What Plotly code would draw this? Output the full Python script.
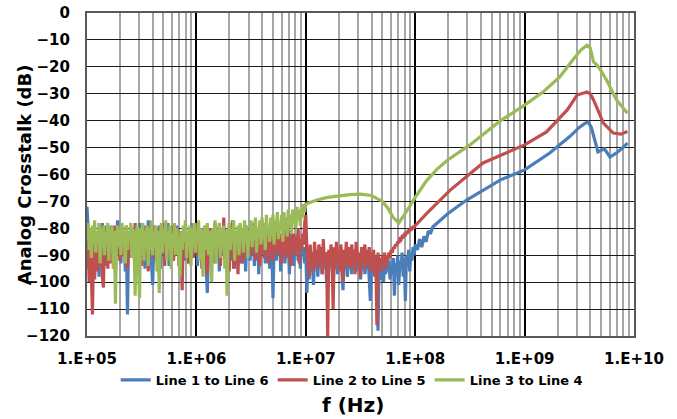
import numpy as np
import plotly.graph_objects as go

# ---------------- data ----------------
# noisy sweep segment 1: log10(f) from 5.00 to 7.00, step 0.01 (201 points)
logf_seg1 = np.round(np.linspace(5.0, 7.0, 201), 3)

blue_seg1 = [
    -72, -79, -88, -82, -93, -80, -90, -84, -95, -81,
    -87, -98, -83, -91, -78, -89, -85, -94, -80, -88,
    -83, -92, -79, -87, -84, -95, -81, -89, -77, -90,
    -84, -93, -80, -88, -82, -96, -85, -112, -83, -90,
    -79, -91, -84, -87, -81, -94, -83, -89, -78, -92,
    -85, -88, -80, -95, -83, -90, -77, -89, -84, -93,
    -101, -86, -80, -92, -84, -88, -79, -95, -83, -87,
    -81, -91, -85, -89, -78, -94, -83, -88, -80, -92,
    -84, -90, -79, -87, -83, -95, -81, -89, -85, -92,
    -80, -88, -84, -93, -82, -87, -78, -91, -85, -89,
    -81, -94, -84, -88, -80, -92, -83, -90, -86, -95,
    -104, -87, -83, -91, -80, -89, -85, -93, -82, -88,
    -84, -96, -81, -90, -86, -88, -80, -94, -84, -89,
    -82, -92, -85, -88, -80, -95, -83, -90, -86, -87,
    -81, -93, -85, -89, -83, -96, -84, -88, -80, -92,
    -86, -90, -82, -94, -85, -88, -81, -97, -84, -90,
    -83, -89, -86, -93, -81, -91, -85, -95, -84, -88,
    -106, -87, -83, -92, -85, -90, -82, -96, -84, -89,
    -86, -93, -83, -88, -85, -97, -84, -90, -82, -94,
    -85, -89, -83, -92, -86, -95, -84, -90, -87, -93,
    -88]

red_seg1 = [
    -95, -84, -100, -88, -97, -112, -86, -99, -82, -96,
    -89, -80, -94, -85, -98, -102, -83, -91, -79, -95,
    -86, -81, -93, -84, -89, -79, -96, -83, -87, -80,
    -92, -85, -81, -90, -83, -88, -79, -95, -84, -86,
    -80, -91, -83, -87, -78, -93, -85, -82, -89, -80,
    -94, -84, -86, -79, -90, -82, -96, -83, -88, -80,
    -85, -91, -79, -87, -84, -93, -80, -86, -82, -89,
    -78, -94, -84, -88, -81, -90, -83, -86, -79, -92,
    -85, -82, -89, -80, -94, -84, -87, -103, -83, -90,
    -79, -88, -84, -93, -81, -86, -80, -91, -83, -87,
    -78, -90, -84, -88, -80, -95, -83, -86, -79, -92,
    -97, -84, -88, -80, -93, -82, -87, -78, -91, -84,
    -86, -79, -94, -83, -89, -76, -92, -84, -88, -81,
    -96, -83, -87, -77, -95, -84, -90, -82, -97, -85,
    -88, -80, -93, -84, -86, -79, -91, -83, -87, -81,
    -90, -82, -86, -78, -92, -84, -88, -80, -94, -83,
    -87, -79, -91, -84, -88, -81, -93, -85, -89, -80,
    -92, -83, -87, -79, -90, -84, -88, -82, -93, -85,
    -86, -80, -91, -83, -89, -81, -94, -84, -88, -82,
    -90, -83, -87, -80, -93, -84, -88, -82, -86, -78,
    -75]

green_seg1 = [
    -84, -78, -88, -80, -91, -79, -86, -77, -89, -81,
    -85, -78, -93, -80, -87, -79, -90, -82, -84, -78,
    -92, -80, -86, -79, -95, -81, -108, -83, -79, -87,
    -80, -90, -78, -85, -82, -93, -79, -88, -81, -84,
    -78, -91, -80, -87, -105, -82, -79, -89, -106, -80,
    -86, -78, -92, -81, -85, -79, -94, -80, -88, -77,
    -90, -82, -84, -79, -96, -81, -104, -83, -78, -89,
    -80, -86, -77, -92, -81, -85, -79, -95, -82, -87,
    -78, -90, -80, -84, -93, -98, -81, -88, -79, -85,
    -77, -91, -82, -86, -79, -94, -80, -87, -78, -89,
    -81, -84, -77, -92, -80, -86, -98, -82, -79, -88,
    -78, -90, -81, -85, -100, -80, -87, -77, -93, -82,
    -84, -78, -91, -80, -86, -79, -95, -81, -105, -83,
    -78, -88, -80, -85, -77, -92, -81, -86, -79, -90,
    -78, -84, -80, -89, -77, -85, -79, -91, -81, -83,
    -77, -87, -79, -84, -76, -89, -80, -83, -77, -86,
    -76, -84, -78, -88, -75, -82, -79, -85, -76, -83,
    -75, -86, -77, -81, -74, -84, -78, -80, -75, -85,
    -74, -81, -76, -83, -73, -79, -75, -82, -73, -78,
    -74, -80, -72, -77, -73, -79, -72, -76, -71, -74,
    -71]

# noisy sweep segment 2: log10(f) from 7.01 to 8.00, step 0.01 (100 points)
logf_seg2 = np.round(np.linspace(7.01, 8.0, 100), 3)

blue_seg2 = [
    -104, -92, -99, -90, -96, -93, -101, -89, -95, -91,
    -98, -90, -94, -92, -97, -89, -95, -91, -100, -93,
    -96, -90, -94, -92, -99, -91, -95, -89, -97, -92,
    -94, -90, -96, -103, -91, -95, -89, -98, -92, -94,
    -90, -97, -91, -95, -89, -96, -92, -94, -90, -99,
    -92, -95, -90, -97, -93, -94, -91, -100, -107, -93,
    -96, -91, -98, -94, -97, -118, -93, -99, -95, -92,
    -100, -94, -97, -93, -96, -92, -99, -94, -95, -91,
    -105, -93, -96, -90, -101, -92, -95, -89, -98, -91,
    -107, -90, -94, -88, -96, -89, -92, -87, -90, -86]

red_seg2 = [
    -88, -94, -98, -86, -93, -89, -96, -85, -92, -88,
    -95, -86, -91, -87, -97, -84, -93, -89, -90, -120,
    -88, -94, -86, -92, -110, -87, -95, -85, -91, -88,
    -96, -86, -90, -100, -88, -93, -85, -94, -89, -87,
    -95, -86, -92, -88, -97, -85, -91, -89, -94, -98,
    -87, -93, -89, -86, -95, -88, -92, -87, -96, -89,
    -91, -88, -97, -90, -116, -89, -94, -91, -96, -90,
    -93, -89, -95, -90, -92, -89, -91, -88, -89, -87,
    -87.5, -86, -86.5, -85, -85.5, -84, -84.3, -83, -83.2, -82.3,
    -82.5, -81.5, -81.6, -80.8, -80.9, -80, -80.2, -79.5, -79.6, -79]

# smooth tails: log10(f) and dB
blue_tail_logf = [8.02, 8.04, 8.06, 8.08, 8.10, 8.12, 8.14, 8.16, 8.3, 8.47, 8.78, 9.0,
                  9.23, 9.41, 9.5, 9.55, 9.58, 9.61, 9.64, 9.67, 9.70, 9.73, 9.78, 9.84, 9.9, 9.94]
blue_tail_db = [-88, -84, -87, -83, -85, -81, -82, -79.5, -74.5, -69.5, -62, -58.3,
                -52, -46, -42.5, -41, -40.5, -42.5, -47, -51.6, -51, -50.5, -53.5, -52, -50, -48.3]

red_tail_logf = [8.11, 8.32, 8.62, 9.0, 9.2, 9.39, 9.48, 9.52, 9.57, 9.6, 9.63, 9.68, 9.72, 9.81, 9.88, 9.94]
red_tail_db = [-74.3, -65.8, -55.7, -49, -44.2, -36, -30.5, -30, -29.3, -30, -32.3, -37, -40.9, -44.6, -45, -44]

green_tail_logf = [7.1, 7.2, 7.3, 7.4, 7.5, 7.6, 7.7, 7.75, 7.8, 7.85, 7.9, 7.95, 8.0, 8.1, 8.2, 8.3,
                   8.5, 8.78, 9.0, 9.17, 9.32, 9.44, 9.52, 9.57, 9.6, 9.63, 9.66, 9.7, 9.75, 9.84, 9.94]
green_tail_db = [-69.5, -68.5, -68, -67.5, -67.3, -67.8, -70, -72.5, -76, -78, -75, -71.5, -68.5, -62.5, -58, -54.5,
                 -49, -40, -34.2, -29.3, -23.8, -17.5, -13.5, -12, -13, -18.2, -19.3, -21.5, -25, -32.3, -37.2]

series_names = ["Line 1 to Line 6", "Line 2 to Line 5", "Line 3 to Line 4"]
series_colors = ["#4A7EBB", "#C0504D", "#9BBB59"]

x_tickvals = [1e5, 1e6, 1e7, 1e8, 1e9, 1e10]
x_ticktext = ["1.E+05", "1.E+06", "1.E+07", "1.E+08", "1.E+09", "1.E+10"]
y_tickvals = list(range(-120, 1, 10))

# ---------------- build ----------------
blue_logf = np.concatenate([logf_seg1, logf_seg2, blue_tail_logf])
blue_db = blue_seg1 + blue_seg2 + blue_tail_db
red_logf = np.concatenate([logf_seg1, logf_seg2, red_tail_logf])
red_db = red_seg1 + red_seg2 + red_tail_db
green_logf = np.concatenate([logf_seg1, green_tail_logf])
green_db = green_seg1 + green_tail_db

xs = [10 ** blue_logf, 10 ** red_logf, 10 ** green_logf]
ys = [blue_db, red_db, green_db]

FONT = "DejaVu Sans"
fig = go.Figure()
for x, y, name, color in zip(xs, ys, series_names, series_colors):
    fig.add_trace(go.Scatter(x=x, y=y, mode="lines", name=name,
                             line=dict(color=color, width=3.2), hoverinfo="skip"))

fig.update_layout(
    width=677, height=419,
    margin=dict(l=87, r=43, t=13, b=83),
    paper_bgcolor="white", plot_bgcolor="white",
    font=dict(family=FONT, color="black", size=14, weight="bold"),
    showlegend=True,
    legend=dict(orientation="h", x=0.483, xanchor="center", y=-0.136, yanchor="middle",
                font=dict(family=FONT, size=13, weight="bold", color="black"),
                itemwidth=30, entrywidth=112, entrywidthmode="pixels",
                tracegroupgap=0, bgcolor="rgba(0,0,0,0)"),
)

fig.update_xaxes(
    type="log", range=[5, 10], automargin=False,
    tickmode="array", tickvals=x_tickvals, ticktext=x_ticktext,
    tickfont=dict(family=FONT, size=15, weight="bold", color="black"),
    showgrid=True, gridcolor="#000000", gridwidth=1.6,
    minor=dict(dtick="D1", showgrid=True, gridcolor="#A6A6A6", gridwidth=1.6, ticks=""),
    showline=True, linecolor="#595959", linewidth=2, mirror=True,
    ticks="", ticklabelstandoff=8, zeroline=False,
)
fig.update_yaxes(
    range=[-120, 0], automargin=False,
    tickmode="array", tickvals=y_tickvals,
    tickfont=dict(family=FONT, size=15, weight="bold", color="black"),
    showgrid=True, gridcolor="#1a1a1a", gridwidth=1,
    showline=True, linecolor="#595959", linewidth=2, mirror=True,
    ticks="", ticklabelstandoff=12, zeroline=False,
)

fig.add_annotation(text="Analog Crosstalk (dB)", xref="paper", yref="paper",
                   x=-0.115, y=0.498, xanchor="center", yanchor="middle", textangle=-90,
                   showarrow=False, font=dict(family=FONT, size=18, weight="bold", color="black"))
fig.add_annotation(text="f (Hz)", xref="paper", yref="paper",
                   x=0.486, y=(336 - 405) / 323, xanchor="center", yanchor="middle",
                   showarrow=False, font=dict(family=FONT, size=20, weight="bold", color="black"))

fig.write_html("out.html", config={"displayModeBar": False},
               post_script="document.body.style.margin='0';document.body.style.overflow='hidden';")
